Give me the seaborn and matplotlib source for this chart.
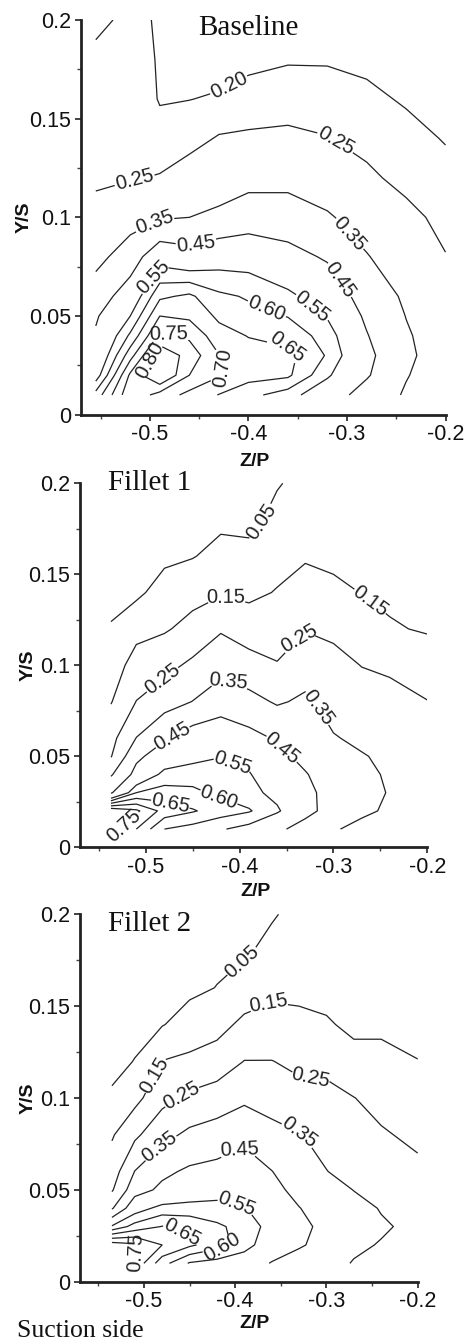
import numpy as np
import matplotlib
matplotlib.use("Agg")
import matplotlib.pyplot as plt
import seaborn as sns

# ---------------- data ----------------
y_rows = [0.01, 0.02, 0.03, 0.04, 0.05, 0.06, 0.08, 0.10, 0.12, 0.14, 0.16, 0.18, 0.20]

baseline_z = [-0.555, -0.52, -0.49, -0.46, -0.43, -0.40, -0.36, -0.32, -0.28, -0.24, -0.20]
baseline_vals = [
    [0.62, 0.79, 0.73, 0.685, 0.648, 0.615, 0.575, 0.50, 0.41, 0.34, 0.28],
    [0.52, 0.76, 0.86, 0.75, 0.705, 0.67, 0.66, 0.56, 0.46, 0.355, 0.30],
    [0.48, 0.68, 0.84, 0.78, 0.702, 0.67, 0.665, 0.595, 0.475, 0.365, 0.31],
    [0.46, 0.61, 0.76, 0.74, 0.67, 0.648, 0.63, 0.58, 0.455, 0.36, 0.30],
    [0.44, 0.55, 0.70, 0.69, 0.64, 0.615, 0.598, 0.545, 0.435, 0.348, 0.29],
    [0.40, 0.50, 0.64, 0.66, 0.61, 0.595, 0.565, 0.51, 0.41, 0.335, 0.28],
    [0.32, 0.40, 0.52, 0.49, 0.52, 0.52, 0.48, 0.44, 0.355, 0.30, 0.252],
    [0.27, 0.31, 0.34, 0.35, 0.37, 0.40, 0.40, 0.36, 0.31, 0.265, 0.235],
    [0.24, 0.245, 0.255, 0.28, 0.30, 0.32, 0.32, 0.30, 0.26, 0.235, 0.215],
    [0.23, 0.23, 0.21, 0.23, 0.255, 0.26, 0.26, 0.252, 0.235, 0.215, 0.197],
    [0.22, 0.22, 0.198, 0.199, 0.205, 0.215, 0.23, 0.225, 0.21, 0.195, 0.185],
    [0.21, 0.215, 0.197, 0.19, 0.18, 0.19, 0.195, 0.195, 0.19, 0.18, 0.175],
    [0.19, 0.21, 0.196, 0.18, 0.17, 0.17, 0.18, 0.175, 0.17, 0.165, 0.165],
]
baseline_levels = [0.20, 0.25, 0.35, 0.45, 0.55, 0.60, 0.65, 0.70, 0.75, 0.80]

fillet1_z = [-0.537, -0.51, -0.48, -0.45, -0.42, -0.39, -0.36, -0.33, -0.30, -0.27, -0.24, -0.20]
fillet1_vals = [
    [0.78, 0.70, 0.60, 0.58, 0.555, 0.53, 0.47, 0.41, 0.36, 0.32, 0.30, 0.28],
    [0.80, 0.76, 0.68, 0.655, 0.625, 0.605, 0.56, 0.48, 0.41, 0.37, 0.335, 0.30],
    [0.44, 0.60, 0.62, 0.61, 0.59, 0.57, 0.53, 0.47, 0.42, 0.38, 0.345, 0.31],
    [0.34, 0.48, 0.57, 0.58, 0.575, 0.555, 0.50, 0.455, 0.41, 0.37, 0.34, 0.31],
    [0.245, 0.43, 0.50, 0.53, 0.548, 0.53, 0.47, 0.43, 0.39, 0.355, 0.335, 0.31],
    [0.22, 0.352, 0.44, 0.502, 0.52, 0.48, 0.44, 0.40, 0.355, 0.335, 0.33, 0.30],
    [0.145, 0.252, 0.31, 0.352, 0.40, 0.38, 0.34, 0.365, 0.32, 0.29, 0.28, 0.252],
    [0.10, 0.19, 0.22, 0.27, 0.32, 0.29, 0.255, 0.31, 0.28, 0.248, 0.235, 0.21],
    [0.055, 0.12, 0.14, 0.18, 0.24, 0.20, 0.21, 0.245, 0.23, 0.21, 0.16, 0.14],
    [0.03, 0.03, 0.09, 0.12, 0.14, 0.13, 0.155, 0.19, 0.17, 0.148, 0.13, 0.12],
    [0.02, 0.02, 0.03, 0.045, 0.08, 0.07, 0.12, 0.14, 0.13, 0.12, 0.11, 0.10],
    [0.01, 0.01, 0.02, 0.02, 0.03, 0.03, 0.07, 0.10, 0.11, 0.10, 0.09, 0.09],
    [0.00, 0.00, 0.01, 0.01, 0.01, 0.01, 0.045, 0.07, 0.09, 0.08, 0.08, 0.08],
]
fillet_levels = [0.05, 0.15, 0.25, 0.35, 0.45, 0.55, 0.60, 0.65, 0.70, 0.75]

fillet2_z = [-0.535, -0.51, -0.48, -0.45, -0.42, -0.39, -0.36, -0.33, -0.30, -0.27, -0.24, -0.20]
fillet2_vals = [
    [0.78, 0.74, 0.62, 0.545, 0.53, 0.50, 0.445, 0.41, 0.38, 0.345, 0.32, 0.30],
    [0.78, 0.76, 0.70, 0.66, 0.62, 0.58, 0.50, 0.46, 0.42, 0.365, 0.345, 0.32],
    [0.56, 0.62, 0.652, 0.64, 0.61, 0.58, 0.53, 0.47, 0.43, 0.39, 0.36, 0.33],
    [0.34, 0.52, 0.57, 0.57, 0.565, 0.555, 0.50, 0.452, 0.42, 0.38, 0.345, 0.32],
    [0.24, 0.41, 0.47, 0.51, 0.53, 0.52, 0.47, 0.43, 0.39, 0.348, 0.33, 0.30],
    [0.20, 0.352, 0.43, 0.465, 0.48, 0.49, 0.452, 0.40, 0.352, 0.32, 0.30, 0.27],
    [0.14, 0.23, 0.32, 0.37, 0.39, 0.43, 0.38, 0.355, 0.32, 0.29, 0.26, 0.23],
    [0.06, 0.12, 0.22, 0.27, 0.30, 0.33, 0.31, 0.28, 0.28, 0.252, 0.22, 0.19],
    [0.03, 0.052, 0.152, 0.17, 0.19, 0.252, 0.252, 0.23, 0.22, 0.18, 0.18, 0.152],
    [0.02, 0.03, 0.045, 0.09, 0.12, 0.17, 0.18, 0.17, 0.16, 0.13, 0.13, 0.12],
    [0.01, 0.02, 0.03, 0.03, 0.052, 0.10, 0.13, 0.13, 0.12, 0.11, 0.11, 0.10],
    [0.00, 0.01, 0.02, 0.02, 0.03, 0.035, 0.08, 0.10, 0.10, 0.09, 0.09, 0.09],
    [0.00, 0.00, 0.01, 0.01, 0.01, 0.02, 0.04, 0.08, 0.08, 0.08, 0.08, 0.08],
]

panel_titles = ["Baseline", "Fillet 1", "Fillet 2"]
x_ticks = [-0.5, -0.4, -0.3, -0.2]
x_ticklabels = ["-0.5", "-0.4", "-0.3", "-0.2"]
y_ticks = [0, 0.05, 0.1, 0.15, 0.2]
y_ticklabels = ["0", "0.05", "0.1", "0.15", "0.2"]

# contour-label anchor points (layout only)
baseline_label_pos = [
    (-0.419, 0.166), (-0.308, 0.141), (-0.514, 0.115), (-0.493, 0.095), (-0.292, 0.094),
    (-0.453, 0.086), (-0.305, 0.069), (-0.503, 0.072), (-0.336, 0.054), (-0.381, 0.054),
    (-0.361, 0.034), (-0.436, 0.023), (-0.481, 0.041), (-0.498, 0.027),
]
fillet1_label_pos = [
    (-0.386, 0.183), (-0.414, 0.138), (-0.270, 0.129), (-0.352, 0.123), (-0.482, 0.092),
    (-0.411, 0.092), (-0.320, 0.0755), (-0.469, 0.058), (-0.352, 0.056), (-0.405, 0.050),
    (-0.423, 0.026), (-0.475, 0.021), (-0.525, 0.013),
]
fillet2_label_pos = [
    (-0.397, 0.177), (-0.359, 0.146), (-0.488, 0.1125), (-0.457, 0.0998), (-0.319, 0.104),
    (-0.481, 0.0726), (-0.327, 0.0835), (-0.396, 0.0726), (-0.397, 0.046), (-0.459, 0.0263),
    (-0.417, 0.0227), (-0.514, 0.0172),
]

# ---------------- figure ----------------
sns.set_theme(style="ticks")
plt.rcParams["font.family"] = ["Liberation Sans", "DejaVu Sans"]

W, H = 469, 1344
fig = plt.figure(figsize=(W / 100, H / 100), dpi=100)
fig.patch.set_facecolor("white")

boxes = [(81, 445.5, 20, 414.7), (80, 427.3, 483.3, 847.3), (80, 417.7, 914.3, 1281.7)]
panels = [
    (baseline_z, baseline_vals, baseline_levels, baseline_label_pos),
    (fillet1_z, fillet1_vals, fillet_levels, fillet1_label_pos),
    (fillet2_z, fillet2_vals, fillet_levels, fillet2_label_pos),
]
title_pos = [(198, 28), (108, 483), (108, 924)]
ylab_x = [-0.132, -0.124, -0.127]
xlab_y = [-0.097, -0.098, -0.091]
xlab_x = [0.477, 0.504, 0.518]

for i, ((l, r, t, b), (zs, vals, levels, lpos)) in enumerate(zip(boxes, panels)):
    ax = fig.add_axes([l / W, 1 - b / H, (r - l) / W, (b - t) / H])
    ax.set_facecolor("white")
    Zg, Yg = np.meshgrid(np.array(zs), np.array(y_rows))
    V = np.array(vals)
    cs = ax.contour(Zg, Yg, V, levels=levels, colors="#222222", linewidths=0.9)
    ax.clabel(cs, manual=lpos, inline=True, fontsize=14.5, fmt="%.2f", inline_spacing=2)
    ax.set_xlim(-0.57, -0.2)
    ax.set_ylim(0, 0.2)
    ax.set_xticks(x_ticks)
    ax.set_xticklabels(x_ticklabels)
    ax.set_yticks(y_ticks)
    ax.set_yticklabels(y_ticklabels)
    ax.set_xticks([-0.55, -0.45, -0.35, -0.25], minor=True)
    ax.set_yticks([0.025, 0.075, 0.125, 0.175], minor=True)
    ax.tick_params(axis="both", which="major", direction="out", length=4.5, width=1.2,
                   labelsize=15.5, pad=2.5, color="#222222", labelcolor="#111111")
    ax.tick_params(axis="both", which="minor", direction="out", length=3, width=1.0,
                   color="#444444")
    sns.despine(ax=ax)
    for sp in ["left", "bottom"]:
        ax.spines[sp].set_linewidth(2.0)
        ax.spines[sp].set_color("#222222")
    ax.set_xlabel("Z/P", fontsize=14, fontweight="bold", color="#111111")
    ax.set_ylabel("Y/S", fontsize=14, fontweight="bold", color="#111111")
    ax.xaxis.set_label_coords(xlab_x[i], xlab_y[i])
    ax.yaxis.set_label_coords(ylab_x[i], 0.5)
    ax.grid(False)
    tx, ty = title_pos[i]
    fig.text(tx / W, 1 - ty / H, panel_titles[i], family="Liberation Serif",
             fontsize=21, ha="left", va="center", color="#111111")

fig.text(17 / W, 1 - 1342 / H, "Suction side", family="Liberation Serif",
         fontsize=18.5, ha="left", va="bottom", color="#111111")

fig.savefig("out.png", dpi=100, facecolor="white")
